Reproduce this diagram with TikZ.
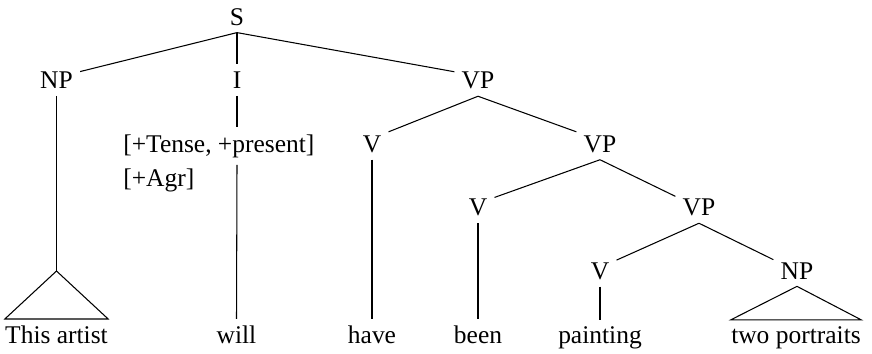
\documentclass[tikz,border=0pt]{standalone}
\usepackage{fontspec}
\setmainfont{Liberation Serif}
\usepackage{tikz}
\usetikzlibrary{positioning, calc}
\tikzstyle{cat} = [inner sep=0.14cm, anchor=base, font=\fontsize{14.5}{19}\selectfont]
\tikzstyle{word} = [inner xsep=0pt, inner ysep=0.12cm, anchor=base, font=\fontsize{14.5}{19}\selectfont]
\tikzstyle{feat} = [inner xsep=0pt, inner ysep=0.14cm, anchor=base west, font=\fontsize{14.5}{19}\selectfont]
\tikzstyle{branch} = [semithick]

\begin{document}
\begin{tikzpicture}[x=0.02cm, y=-0.02cm]
\useasboundingbox (0,0) rectangle (872,353);
% Top level
\node[cat] (S) at (237,25) {S};
\node[cat] (np) at (56.5,88.5) {NP};
\node[cat] (infl) at (237,88.5) {I};
\node[cat] (vp) at (478,88.5) {VP};

% Features of I
\node[feat] (tense) at (123,152) {[+Tense, +present]};
\node[feat] (agr) at (123,186) {[+Agr]};

% Verb chain
\node[cat] (vhave) at (372,152) {V};
\node[cat] (vpa) at (600,152) {VP};
\node[cat] (vbeen) at (478,215.5) {V};
\node[cat] (vpb) at (699,215.5) {VP};
\node[cat] (vpaint) at (600,279) {V};
\node[cat] (npobj) at (797,279) {NP};

% Words
\node[word] (artist) at (56.5,343) {This artist};
\node[word] (will) at (236.5,343) {will};
\node[word] (have) at (372,343) {have};
\node[word] (been) at (478,343) {been};
\node[word] (painting) at (600,343) {painting};
\node[word] (portraits) at (796,343) {two portraits};
\coordinate (nptip) at (56.5,271);

% Branches
\draw[branch] (S.south) -- (np.20);
\draw[branch] (S.south) -- (infl.north);
\draw[branch] (S.south) -- (vp.160);
\draw[branch] (vp.south) -- (vhave.36);
\draw[branch] (vp.south) -- (vpa.153);
\draw[branch] (vpa.south) -- (vbeen.31);
\draw[branch] (vpa.south) -- (vpb.155);
\draw[branch] (vpb.south) -- (vpaint.33);
\draw[branch] (vpb.south) -- (npobj.155);

% Down to the words
\draw[branch] (infl.south) -- (infl.south |- tense.north);
\draw[branch] (infl.south |- tense.south) -- (will.north);
\draw[branch] (vhave.south) -- (have.north);
\draw[branch] (vbeen.south) -- (been.north);
\draw[branch] (vpaint.south) -- (painting.north);

% Triangles
\draw[branch] (np.south) -- (nptip);
\draw[branch] (nptip) -- (artist.north west) -- (artist.north east) -- cycle;
\draw[branch] (npobj.south) -- (portraits.north west) -- (portraits.north east) -- cycle;
\end{tikzpicture}
\end{document}
